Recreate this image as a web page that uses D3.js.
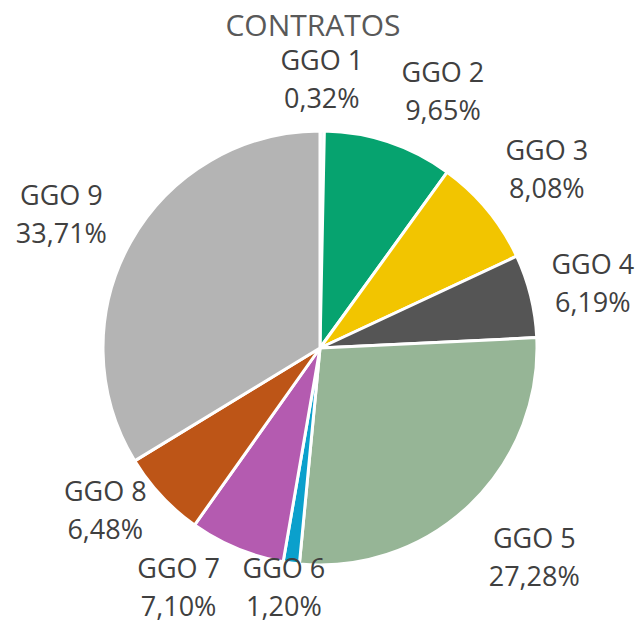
<!DOCTYPE html>
<html>
<head>
<meta charset="utf-8">
<script src="https://cdn.jsdelivr.net/npm/d3@7"></script>
<style>
  body { margin: 0; background: #fff; }
  svg { display: block; font-family: "Open Sans", sans-serif; }
</style>
</head>
<body>
<script>
// data
var categories = ["GGO 1", "GGO 2", "GGO 3", "GGO 4", "GGO 5", "GGO 6", "GGO 7", "GGO 8", "GGO 9"];
var shares = [0.32, 9.65, 8.08, 6.19, 27.28, 1.20, 7.10, 6.48, 33.71];
var colors = ["#eef6fa", "#06a36f", "#f2c500", "#555555", "#96b596", "#0ba0cc", "#b45bb0", "#bd5517", "#b4b4b4"];

// label nudges (Excel moves some labels to avoid collisions)
var nudges = [[-1, 11], [34, 8.5], [11, -1], [1, 2], [21, 6], [1, -38.5], [-34, -19.5], [-10, -29], [-14.5, 3.5]];

var width = 639,
	height = 623,
	cx = 320,
	cy = 348,
	radius = 217;

var svg = d3.select("body").append("svg")
	.attr("width", width)
	.attr("height", height);

svg.append("text")
	.attr("x", 313)
	.attr("y", 36)
	.attr("text-anchor", "middle")
	.style("font-size", "30px")
	.style("fill", "#595959")
	.text("CONTRATOS");

var pie = d3.pie().sort(null).value(function(d) { return d; });
var arcs = pie(shares);

var arc = d3.arc().innerRadius(0).outerRadius(radius);
var labelArc = d3.arc().innerRadius(280).outerRadius(280);

var g = svg.append("g").attr("transform", "translate(" + cx + "," + cy + ")");

g.selectAll("path")
	.data(arcs)
	.enter()
	.append("path")
		.attr("d", arc)
		.style("fill", function(d, i) { return colors[i]; })
		.style("stroke", "#fff")
		.style("stroke-width", "3px")
		.style("stroke-linejoin", "round");

var labels = g.selectAll("text.lbl")
	.data(arcs)
	.enter()
	.append("text")
		.attr("class", "lbl")
		.attr("text-anchor", "middle")
		.style("font-size", "27px")
		.style("fill", "#404040")
		.attr("transform", function(d, i) {
			var c = labelArc.centroid(d);
			return "translate(" + (c[0] + nudges[i][0]) + "," + (c[1] + nudges[i][1]) + ")";
		});

labels.append("tspan")
	.attr("x", 0)
	.attr("y", -9)
	.text(function(d, i) { return categories[i]; });

labels.append("tspan")
	.attr("x", 0)
	.attr("y", 29)
	.text(function(d) { return d.value.toFixed(2).replace(".", ",") + "%"; });
</script>
</body>
</html>
